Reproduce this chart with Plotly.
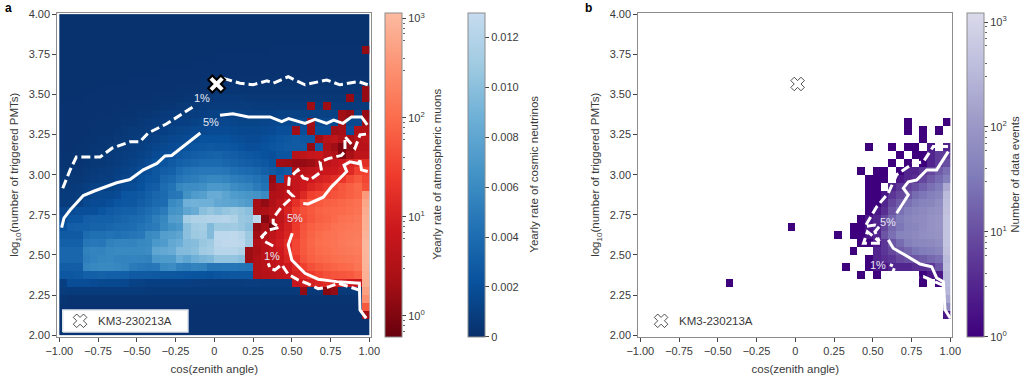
import math
import plotly.graph_objects as go

W, H = 1024, 379
edges = [round(-1 + 0.05 * i, 2) for i in range(41)]
y_edges = [round(2 + 0.05 * i, 2) for i in range(41)]

# Cosmic neutrino yearly rate in units of 1e-4, bottom row (logN 2.00) first
nu_rows = [
 [2,2,2,2,2,2,2,2,2,2,2,2,2,2,2,2,2,2,2,2,2,2,2,2,2,2,2,2,2,2,2,2,2,2,2,2,2,2,2,2],
 [2,2,2,2,2,2,2,2,2,2,2,2,2,2,2,2,2,2,2,2,2,2,2,2,2,2,2,2,2,2,2,2,2,2,2,2,2,2,2,2],
 [2,2,2,2,2,2,2,2,2,2,2,2,2,2,2,2,2,2,2,2,2,2,2,2,2,2,2,2,2,2,2,2,2,2,2,2,2,2,2,2],
 [3,2,2,2,2,2,2,2,2,2,2,2,2,2,2,2,2,2,2,2,2,2,2,2,2,2,2,2,2,2,2,2,2,2,2,2,2,2,2,2],
 [4,3,3,3,3,3,3,3,3,3,3,3,3,3,3,3,3,3,3,3,3,3,3,3,3,3,3,3,3,3,3,3,3,3,3,3,3,3,3,3],
 [8,7,7,7,7,7,7,7,7,7,7,6,6,6,6,6,6,6,6,6,6,6,6,6,6,6,6,6,6,6,6,6,6,6,6,6,6,6,6,6],
 [10,19,19,19,18,16,16,16,15,12,11,10,10,10,10,10,10,9,9,8,8,8,8,8,9,9,8,8,8,8,8,8,8,8,8,8,8,8,8,8],
 [26,26,27,32,32,33,32,32,31,28,28,28,27,26,26,25,24,23,23,22,24,25,26,26,26,26,26,26,26,26,26,26,26,26,26,26,26,26,26,26],
 [30,30,30,56,58,60,60,58,56,50,48,46,48,60,62,54,52,55,54,45,45,46,46,45,44,44,44,44,44,44,44,44,44,44,44,44,44,44,44,44],
 [36,36,36,52,55,57,58,56,55,56,55,54,70,72,72,86,80,88,92,95,104,104,104,100,72,60,60,60,60,60,60,60,60,60,60,60,60,60,60,60],
 [36,36,36,54,56,55,58,60,60,60,60,62,80,82,85,96,97,100,110,112,122,122,122,118,105,60,60,60,60,60,60,60,60,60,60,60,60,60,60,60],
 [32,32,32,46,48,47,54,56,56,55,58,60,70,72,82,86,96,98,106,110,124,126,126,125,110,60,60,60,60,60,60,60,60,60,60,60,60,60,60,60],
 [28,28,28,40,42,42,44,42,44,46,48,60,62,74,76,80,100,108,110,96,125,125,126,122,108,60,60,60,60,60,60,60,60,60,60,60,60,60,60,60],
 [22,30,32,32,34,34,36,38,38,40,44,48,50,60,66,70,100,110,112,96,108,108,110,106,100,92,60,60,60,60,60,60,60,60,60,60,60,60,60,60],
 [18,24,24,30,32,32,32,34,36,38,40,44,52,58,74,76,112,118,118,120,120,122,118,106,104,125,60,60,60,60,60,60,60,60,60,60,60,60,60,60],
 [14,18,20,20,20,24,28,30,32,32,36,40,44,50,66,68,80,85,100,105,100,105,108,105,100,90,60,60,60,60,60,60,60,60,60,60,60,60,60,60],
 [8,8,10,16,18,18,20,24,26,26,30,34,38,40,60,64,88,90,88,88,82,80,78,76,72,68,60,60,60,60,60,60,60,60,60,60,60,60,60,60],
 [7,7,8,12,14,16,16,18,24,25,27,32,36,38,46,48,65,72,75,85,85,78,72,70,68,66,60,60,50,50,50,50,50,50,50,50,50,50,50,50],
 [6,6,7,9,11,12,12,14,18,19,22,28,30,40,44,58,62,62,64,70,70,68,62,58,56,50,44,40,36,34,32,30,30,30,30,30,30,30,30,30],
 [5,5,5,6,8,9,9,12,14,16,20,24,26,36,38,46,50,52,55,58,58,56,52,50,48,44,40,36,30,30,30,30,30,30,30,30,30,30,30,30],
 [4,4,4,5,6,7,8,10,12,14,18,20,26,30,32,40,44,46,48,48,48,46,42,40,38,36,32,28,24,28,28,28,28,28,28,28,28,28,28,28],
 [3,3,3,4,5,5,6,8,10,12,14,18,22,24,28,32,34,36,38,38,38,36,34,32,30,28,26,22,20,24,26,26,26,26,26,26,26,26,26,26],
 [3,3,3,4,4,5,6,7,9,10,12,14,18,20,22,26,28,30,32,33,34,32,30,28,26,24,22,20,24,24,26,26,28,28,28,28,28,28,28,28],
 [2,2,3,3,4,4,5,6,7,9,10,12,14,16,18,20,22,24,26,27,26,26,24,22,20,20,22,24,26,28,28,28,28,30,30,30,30,28,28,28],
 [2,2,2,3,3,4,4,5,6,7,8,10,11,13,15,16,18,20,22,22,22,22,20,19,18,18,20,22,24,26,28,26,26,26,26,26,26,26,26,26],
 [2,2,2,2,3,3,3,4,5,6,6,8,9,10,12,13,14,16,16,18,18,18,17,16,16,16,17,18,20,20,20,20,20,20,20,20,20,20,20,20],
 [2,2,2,2,2,3,3,3,4,4,5,6,7,8,9,10,10,12,13,14,15,15,14,13,13,13,14,15,16,16,16,16,16,16,16,16,16,16,16,16],
 [2,2,2,2,2,2,2,3,3,3,4,4,5,6,7,8,8,9,10,11,12,12,11,11,10,10,10,10,11,11,11,11,11,11,11,11,11,11,11,11],
 [2,2,2,2,2,2,2,2,2,3,3,3,3,4,4,5,6,6,7,8,8,8,8,8,8,7,7,7,7,7,7,7,7,7,7,7,7,7,7,7],
 [1,1,1,2,2,2,2,2,2,2,2,2,3,3,3,3,4,4,5,5,6,6,6,6,5,5,5,5,5,5,5,5,5,5,5,5,5,5,5,5],
 [1,1,1,1,1,2,2,2,2,2,2,2,2,2,2,3,3,3,3,3,4,4,4,4,4,4,4,4,4,4,4,4,4,4,4,4,4,4,4,4],
 [1,1,1,1,1,1,1,1,1,2,2,2,2,2,2,2,2,2,3,3,3,3,3,3,3,3,3,3,3,3,3,3,3,3,3,3,3,3,3,3],
 [1,1,1,1,1,1,1,1,1,1,1,1,1,2,2,2,2,2,2,2,2,2,2,2,2,2,2,2,2,2,2,2,2,2,2,2,2,2,2,2],
 [1,1,1,1,1,1,1,1,1,1,1,1,1,1,1,1,1,2,2,2,2,2,2,2,2,2,2,2,2,2,2,2,2,2,2,2,2,2,2,2],
 [1,1,1,1,1,1,1,1,1,1,1,1,1,1,1,1,1,1,1,1,2,2,2,2,2,2,2,2,2,2,2,2,2,2,2,2,2,2,2,2],
 [1,1,1,1,1,1,1,1,1,1,1,1,1,1,1,1,1,1,1,1,1,1,1,1,1,1,1,2,2,2,2,2,2,2,2,2,2,2,2,2],
 [1,1,1,1,1,1,1,1,1,1,1,1,1,1,1,1,1,1,1,1,1,1,1,1,1,1,1,1,1,1,1,1,1,1,1,1,1,1,1,1],
 [1,1,1,1,1,1,1,1,1,1,1,1,1,1,1,1,1,1,1,1,1,1,1,1,1,1,1,1,1,1,1,1,1,1,1,1,1,1,1,1],
 [1,1,1,1,1,1,1,1,1,1,1,1,1,1,1,1,1,1,1,1,1,1,1,1,1,1,1,1,1,1,1,1,1,1,1,1,1,1,1,1],
 [1,1,1,1,1,1,1,1,1,1,1,1,1,1,1,1,1,1,1,1,1,1,1,1,1,1,1,1,1,1,1,1,1,1,1,1,1,1,1,1],
]

# Muon yearly rate: (row index, first column index, values left to right)
muon_rows = [
 (2, 39, [2]),
 (3, 39, [60]),
 (4, 39, [300]),
 (5, 31, [1.5, None, None, 1.2, 1.5, None, None, None, 500]),
 (6, 30, [6, 8, 10, 12, 15, 12, 10, 8, 6, 800]),
 (7, 25, [3, 3.5, 4, 5, 6, 10, 14, 25, 35, 45, 50, 55, 60, 80, 850]),
 (8, 25, [3, 4, 5, 6, 8, 14, 30, 45, 60, 70, 80, 90, 100, 130, 900]),
 (9, 24, [1.8, 3, 4, 5, 7, 12, 25, 50, 70, 85, 95, 110, 120, 130, 140, 950]),
 (10, 24, [1.8, 2.5, 4, 6, 8, 15, 35, 60, 80, 100, 110, 125, 135, 150, 160, 1000]),
 (11, 25, [3, 4, 6, 9, 16, 35, 60, 85, 105, 115, 130, 150, 165, 175, 1000]),
 (12, 25, [2, 3, 5, 8, 12, 28, 55, 80, 100, 115, 125, 140, 155, 165, 900]),
 (13, 25, [1.5, 2.5, 0.8, 6, 10, 25, 50, 70, 85, 95, 115, 130, 140, 155, 800]),
 (14, 26, [1.2, 3, 5, 9, 20, 40, 55, 70, 80, 95, 115, 125, 140, 800]),
 (15, 25, [2.5, 3, 4, 6, 12, 30, 45, 60, 75, 85, 90, 95, 105, 125, 700]),
 (16, 25, [2.2, 1.5, 3, 5, 9, 18, 35, 50, 60, 70, 75, 85, 100, 115, 600]),
 (17, 27, [3, 3.5, 5, 8, 14, 30, 35, 42, 50, 60, 70, 85, 400]),
 (18, 27, [2, 3, 4, 6, 8, 12, 16, 22, 40, 55, 70, 90, 45]),
 (19, 27, [1.5, None, 5, 6, 7, 8, 10, 12, 16, 22, 40, 60, 35]),
 (20, 30, [3, 4, 5, 6, 7, 8, 10, 14, 30, 30]),
 (21, 28, [2, 1.8, 1.6, 1.6, 1.8, 3, 5, 6, 8, 12, 16, 16]),
 (22, 30, [4, 5, 6, 7, 4, 3, 1, 2.5, 5, 5]),
 (23, 32, [1.5, None, 3, 2, 1, 1.5, 4, 4]),
 (24, 33, [2, 4, 5, 3, 2.5, 4, 5]),
 (25, 30, [2, None, 1.8, None, None, 2, 2.2, None, 3, 3]),
 (26, 32, [2, None, None, None, 2, None, None, 2]),
 (27, 36, [2, 1.5, None, 1.6]),
 (28, 32, [1.8, None, 1.8]),
 (29, 37, [1.6, None, 1.6]),
 (30, 39, [1.6]),
 (35, 39, [1.5]),
]

# Observed data events: (row index, first column index, counts left to right)
data_rows = [
 (2, 39, [2]),
 (3, 39, [60]),
 (4, 39, [180]),
 (5, 39, [300]),
 (6, 36, [1, None, 1, 350]),
 (6, 11, [1]),
 (7, 28, [1, None, 1, None, None, None, None, None, 1, 2, 2, 350]),
 (8, 26, [1, None, None, 1, 2, 2, 3, 3, 3, 4, 4, 5, 12, 400]),
 (9, 29, [1, 3, 4, 5, 8, 10, 12, 15, 20, 25, 350]),
 (10, 27, [1, None, None, 3, 5, 8, 14, 20, 28, 35, 40, 50, 450]),
 (11, 28, [1, 1, 2, 5, 12, 22, 40, 50, 55, 60, 70, 500]),
 (12, 25, [1, None, 1, 1, 2, 3, 12, 25, 45, 50, 60, 70, 75, 85, 500]),
 (13, 19, [1]),
 (13, 27, [1, 1, 2, 3, 8, 20, 30, 45, 50, 65, 80, 90, 500]),
 (14, 28, [1, 2, 3, 8, 20, 35, 50, 60, 65, 80, 90, 500]),
 (15, 29, [1, 2, 4, 12, 25, 40, 50, 60, 70, 80, 450]),
 (16, 29, [1, 1, 3, 8, 14, 25, 35, 45, 50, 70, 400]),
 (17, 29, [1, 1, 2, 5, 8, 12, 22, 30, 40, 50, 350]),
 (18, 29, [1, 1, None, 3, 5, 7, 10, 16, 25, 35, 200]),
 (19, 29, [1, 1, 1, None, 2, 3, 4, 8, 14, 22, 40]),
 (20, 28, [1, None, 1, 1, None, 1, 3, 3, 5, 8, 14, 25]),
 (21, 32, [1, None, 1, None, 1, 3, 6, 10]),
 (22, 33, [1, None, 1, 1, 3, 6, 6]),
 (23, 29, [1, None, None, 1, None, 1, 1, None, 2, None, 3]),
 (24, 36, [1]),
 (25, 34, [1, None, 1, None, 1]),
 (26, 34, [1, None, None, None, None, 1]),
]

# Contours of panel a
a_five_left_x = [-0.985,-0.97,-0.93,-0.845,-0.77,-0.63,-0.544,-0.458,-0.37,-0.318,-0.275,-0.2,-0.09]
a_five_left_y = [2.67,2.73,2.78,2.87,2.90,2.95,2.97,3.03,3.07,3.117,3.12,3.175,3.26]
a_five_top_x = [0.037,0.12,0.22,0.36,0.435,0.48,0.585,0.65,0.725,0.77,0.83,0.886,0.95,0.987]
a_five_top_y = [3.37,3.38,3.36,3.36,3.33,3.35,3.32,3.345,3.32,3.34,3.32,3.36,3.36,3.31]
a_one_left_x = [-0.978,-0.93,-0.89,-0.737,-0.66,-0.544,-0.48,-0.426,-0.307,-0.125]
a_one_left_y = [2.916,3.03,3.11,3.11,3.165,3.205,3.205,3.26,3.317,3.43]
a_one_top_x = [0.058,0.166,0.25,0.34,0.38,0.477,0.585,0.725,0.81,0.93,0.99]
a_one_top_y = [3.60,3.57,3.56,3.585,3.57,3.61,3.56,3.59,3.56,3.58,3.56]
a_five_low_x = [0.98,0.94,0.936,0.79,0.67,0.585,0.5,0.477,0.503]
a_five_low_y = [2.106,2.158,2.324,2.334,2.349,2.386,2.469,2.563,2.635]
a_five_up_x = [0.574,0.606,0.703,0.757,0.8,0.854,0.837,0.875,0.929,0.94,0.95,0.99]
a_five_up_y = [2.82,2.818,2.86,2.926,2.967,3.02,3.06,3.08,3.07,3.088,3.03,3.02]
a_one_low_x = [0.94,0.895,0.8,0.735,0.67,0.596,0.54,0.477,0.435,0.39,0.36,0.348]
a_one_low_y = [2.28,2.295,2.324,2.30,2.29,2.324,2.345,2.38,2.44,2.406,2.417,2.449]
a_one_up_x = [0.38,0.327,0.306,0.348,0.42,0.38,0.38,0.435,0.51,0.477,0.484,0.54,0.574,0.617,0.693,0.682,0.735,0.82,0.843,0.843,0.908,0.94,0.99]
a_one_up_y = [2.556,2.583,2.614,2.655,2.672,2.698,2.73,2.80,2.865,2.894,2.98,3.03,2.98,2.967,3.02,3.08,3.10,3.12,3.144,3.237,3.165,3.248,3.254]

# Contours of panel b
b_five_low_x = [1.0,0.966,0.955,0.912,0.88,0.805,0.708,0.632,0.6]
b_five_low_y = [2.106,2.158,2.334,2.357,2.427,2.444,2.5,2.542,2.594]
b_five_up_x = [0.654,0.729,0.697,0.729,0.783,0.848,0.912,0.955,0.987]
b_five_up_y = [2.76,2.874,2.916,2.956,2.967,3.03,3.03,3.10,3.144]
b_one_low_x = [0.955,0.826,0.72,0.622,0.643,0.61]
b_one_low_y = [2.31,2.365,2.355,2.376,2.427,2.44]
b_one_up_x = [0.546,0.44,0.465,0.542,0.514,0.542,0.514,0.45,0.525,0.6,0.654,0.761,0.826,0.858,0.89,0.92,0.985]
b_one_up_y = [2.573,2.573,2.645,2.585,2.645,2.677,2.687,2.677,2.80,2.885,3.0,3.07,3.08,3.124,3.175,3.175,3.175]

event_cos = [0.015]
event_logn = [3.565]
event_name = "KM3-230213A"
key_cos = -0.866
key_logn = 2.09
key_text_cos = -0.763
key_box_cos = [-0.978, -0.17, -0.17, -0.978, -0.978]
key_box_logn = [2.02, 2.02, 2.158, 2.158, 2.02]
x_ticks = [-1, -0.75, -0.5, -0.25, 0, 0.25, 0.5, 0.75, 1]
x_labels = ["\u22121.00", "\u22120.75", "\u22120.50", "\u22120.25", "0", "0.25", "0.50", "0.75", "1.00"]
y_ticks = [2, 2.25, 2.5, 2.75, 3, 3.25, 3.5, 3.75, 4]
y_labels = ["2.00", "2.25", "2.50", "2.75", "3.00", "3.25", "3.50", "3.75", "4.00"]
nu_ticks = [0, 0.002, 0.004, 0.006, 0.008, 0.010, 0.012]
nu_labels = ["0", "0.002", "0.004", "0.006", "0.008", "0.010", "0.012"]
log_ticks = [0, 1, 2, 3]
log_labels = ["10<sup>0</sup>", "10<sup>1</sup>", "10<sup>2</sup>", "10<sup>3</sup>"]

FONT = "Liberation Sans, Arial, sans-serif"
TXT = "#3a3a3a"
SP = "#8c8c8c"
BLUES = ["#08306b", "#08519c", "#2171b5", "#4292c6", "#6baed6", "#9ecae1", "#c6dbef"]
REDS = ["#67000d", "#a50f15", "#cb181d", "#ef3b2c", "#fb6a4a", "#fc9272", "#fcbba1"]
PURPLES = ["#3f007d", "#54278f", "#6a51a3", "#807dba", "#9e9ac8", "#bcbddc", "#dadaeb"]


def scale(cols):
    return [[i / (len(cols) - 1), c] for i, c in enumerate(cols)]


def grid(rows):
    z = [[None] * 40 for _ in range(40)]
    for r, c0, vals in rows:
        for i, v in enumerate(vals):
            if v is not None:
                z[r][c0 + i] = math.log10(v)
    return z


def px_x(p):
    return p / W


def px_y(p):
    return 1 - p / H


TOP, BOT = 12.7, 336.7
dom_y = [px_y(BOT), px_y(TOP)]
cb_len = (BOT - TOP) / H
cb_mid = (dom_y[0] + dom_y[1]) / 2
tick_font = dict(family=FONT, size=11, color=TXT)
title_font = dict(family=FONT, size=11.5, color=TXT)


def bar(x_left, **kw):
    return dict(x=px_x(x_left), xanchor="left", xpad=0, ypad=0, y=cb_mid, yanchor="middle",
                len=cb_len, lenmode="fraction", thickness=17, thicknessmode="pixels",
                outlinecolor=SP, outlinewidth=1, ticks="outside", ticklen=4, tickcolor="#444",
                tickwidth=0.8, tickfont=tick_font, **kw)


fig = go.Figure()

fig.add_trace(go.Heatmap(
    x=edges, y=y_edges, z=[[v * 1e-4 for v in row] for row in nu_rows],
    zmin=0, zmax=0.013, colorscale=scale(BLUES), xaxis="x", yaxis="y",
    colorbar=bar(468, tickvals=nu_ticks, ticktext=nu_labels),
    hoverinfo="skip"))
fig.add_trace(go.Heatmap(
    x=edges, y=y_edges, z=grid(muon_rows), zmin=-0.21, zmax=3.06, colorscale=scale(REDS),
    xaxis="x", yaxis="y", hoverongaps=False,
    colorbar=bar(384.5, tickvals=log_ticks, ticktext=log_labels),
    hoverinfo="skip"))
fig.add_trace(go.Heatmap(
    x=edges, y=y_edges, z=grid(data_rows), zmin=0, zmax=3.09, colorscale=scale(PURPLES),
    xaxis="x2", yaxis="y2", hoverongaps=False,
    colorbar=bar(967.3, tickvals=log_ticks, ticktext=log_labels),
    hoverinfo="skip"))


def line(x, y, axis, dashed):
    fig.add_trace(go.Scatter(
        x=x, y=y, mode="lines", xaxis="x" + axis, yaxis="y" + axis, showlegend=False,
        hoverinfo="skip",
        line=dict(color="white", width=3, dash="9px,4px" if dashed else "solid")))


line(a_five_left_x, a_five_left_y, "", False)
line(a_five_top_x, a_five_top_y, "", False)
line(a_one_left_x, a_one_left_y, "", True)
line(a_one_top_x, a_one_top_y, "", True)
line(a_five_low_x, a_five_low_y, "", False)
line(a_five_up_x, a_five_up_y, "", False)
line(a_one_low_x, a_one_low_y, "", True)
line(a_one_up_x, a_one_up_y, "", True)
line(b_five_low_x, b_five_low_y, "2", False)
line(b_five_up_x, b_five_up_y, "2", False)
line(b_one_low_x, b_one_low_y, "2", True)
line(b_one_up_x, b_one_up_y, "2", True)

# Event marker
fig.add_trace(go.Scatter(
    x=event_cos, y=event_logn, mode="markers", xaxis="x", yaxis="y", showlegend=False,
    hoverinfo="skip",
    marker=dict(symbol="x", size=15, color="white", line=dict(color="black", width=2))))
fig.add_trace(go.Scatter(
    x=event_cos, y=event_logn, mode="markers", xaxis="x2", yaxis="y2", showlegend=False,
    hoverinfo="skip",
    marker=dict(symbol="x", size=12, color="white", line=dict(color="#222", width=0.8))))

# Key box and key markers
fig.add_trace(go.Scatter(
    x=key_box_cos, y=key_box_logn, mode="lines", fill="toself", fillcolor="white", xaxis="x", yaxis="y",
    showlegend=False, hoverinfo="skip", line=dict(color="#dfe3ec", width=1.5)))
for axis in ("", "2"):
    fig.add_trace(go.Scatter(
        x=[key_cos], y=[key_logn], mode="markers", xaxis="x" + axis, yaxis="y" + axis,
        name=event_name, showlegend=False, hoverinfo="skip",
        marker=dict(symbol="x", size=12, color="white", line=dict(color="#222", width=0.8))))

# Minor ticks on the log colour bars, carried by hidden log axes
for axis, pos, lo, hi in (("3", 401.5, -0.21, 3.06), ("4", 984.3, 0, 3.09)):
    fig.add_trace(go.Scatter(x=[None], y=[None], mode="markers", xaxis="x" + axis, yaxis="y" + axis,
                             showlegend=False, hoverinfo="skip"))
    fig.layout["xaxis" + axis] = dict(visible=False, domain=[0, 0.01], range=[0, 1], anchor="y" + axis)
    fig.layout["yaxis" + axis] = dict(
        type="log", range=[lo, hi], domain=dom_y, anchor="free", position=pos / W, side="right",
        showline=False, showgrid=False, zeroline=False, showticklabels=False, ticks="",
        minor=dict(ticks="outside", ticklen=2, tickcolor="#666", tickwidth=0.6, showgrid=False))


def x_axis(l, r, bg_anchor):
    return dict(domain=[px_x(l), px_x(r)], range=[-1.013, 1.013], anchor=bg_anchor,
                tickmode="array", tickvals=x_ticks, ticktext=x_labels, ticks="outside", ticklen=4,
                tickwidth=0.8, tickcolor="#444", tickfont=tick_font, showgrid=False, zeroline=False,
                showline=True, linecolor=SP, linewidth=1, mirror=True,
                title=dict(text="cos(zenith angle)", font=title_font, standoff=9))


def y_axis(anchor):
    return dict(domain=dom_y, range=[1.991, 4.009], anchor=anchor, tickmode="array", tickvals=y_ticks,
                ticktext=y_labels, ticks="outside", ticklen=4, tickwidth=0.8, tickcolor="#444",
                tickfont=tick_font, showgrid=False, zeroline=False, showline=True, linecolor=SP,
                linewidth=1, mirror=True,
                title=dict(text="log<sub>10</sub>(number of triggered PMTs)",
                           font=title_font, standoff=7))


def label(text, x, y, xref, yref):
    return dict(text=text, x=x, y=y, xref=xref, yref=yref, showarrow=False,
                font=dict(family=FONT, size=11, color="#e6e9f2"))


def bar_title(text, x_px):
    return dict(text=text, x=px_x(x_px), y=cb_mid, xref="paper", yref="paper", showarrow=False,
                textangle=-90, xanchor="center", yanchor="middle", font=title_font)


def key_text(x, xref, yref):
    return dict(text=event_name, x=x, y=key_logn, xref=xref, yref=yref, showarrow=False,
                xanchor="left", yanchor="middle", font=dict(family=FONT, size=11.5, color=TXT))


fig.update_layout(
    width=W, height=H, margin=dict(l=0, r=0, t=0, b=0, autoexpand=False), autosize=False,
    paper_bgcolor="white", plot_bgcolor="white", font=dict(family=FONT, size=11, color=TXT),
    xaxis=x_axis(57.3, 371.3, "y"), yaxis=y_axis("x"),
    xaxis2=x_axis(638.3, 952.3, "y2"), yaxis2=y_axis("x2"),
    annotations=[
        label("1%", -0.08, 3.48, "x", "y"), label("5%", -0.02, 3.33, "x", "y"),
        label("5%", 0.52, 2.73, "x", "y"), label("1%", 0.374, 2.494, "x", "y"),
        label("5%", 0.6, 2.708, "x2", "y2"), label("1%", 0.535, 2.44, "x2", "y2"),
        bar_title("Yearly rate of atmospheric muons", 437),
        bar_title("Yearly rate of cosmic neutrinos", 534),
        bar_title("Number of data events", 1015),
        key_text(key_text_cos, "x", "y"), key_text(key_text_cos, "x2", "y2"),
        dict(text="<b>a</b>", x=px_x(3), y=px_y(8), xref="paper", yref="paper", xanchor="left",
             yanchor="middle", showarrow=False, font=dict(family=FONT, size=12, color="black")),
        dict(text="<b>b</b>", x=px_x(583), y=px_y(8), xref="paper", yref="paper", xanchor="left",
             yanchor="middle", showarrow=False, font=dict(family=FONT, size=12, color="black")),
    ],
)
fig.write_html("out.html", config={"displayModeBar": False},
               post_script="document.body.style.margin='0';document.body.style.overflow='hidden';")
